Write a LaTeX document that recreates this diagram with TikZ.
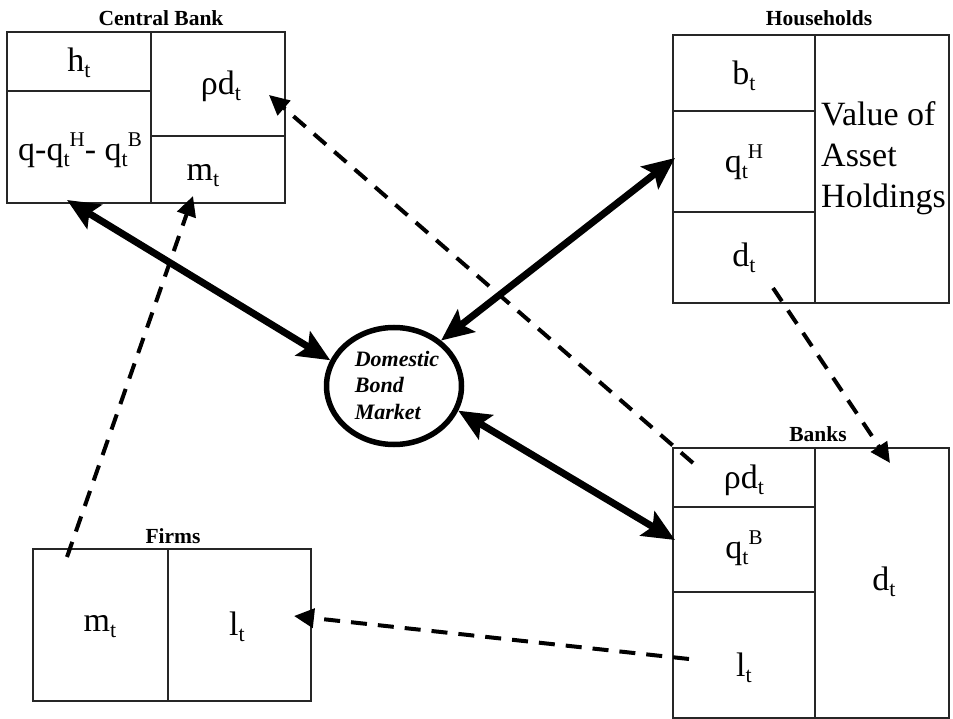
\documentclass[tikz,border=0pt]{standalone}
\usepackage{fontspec}
\setmainfont{Liberation Serif}
\usetikzlibrary{arrows.meta,shapes.geometric}
\newcommand{\Tsub}[1]{\raisebox{-0.18em}{\fontsize{22}{22}\selectfont #1}}
\newcommand{\Tsup}[1]{\raisebox{0.40em}{\fontsize{21}{21}\selectfont #1}}
\begin{document}
\begin{tikzpicture}[x=1pt,y=-1pt,
  boxline/.style={draw=black!85, line width=1.3pt},
  boxnode/.style={boxline, inner sep=0pt, outer sep=0pt},
  title/.style={font=\fontsize{21.5}{24}\selectfont\bfseries, inner sep=0pt},
  cell/.style={font=\fontsize{34}{40}\selectfont, inner sep=0pt},
  bondtext/.style={font=\fontsize{22}{26.5}\selectfont\bfseries\itshape, align=left, inner sep=0pt},
  thickarrow/.style={line width=7pt, {Stealth[length=32pt,width=28pt,inset=6pt]}-{Stealth[length=32pt,width=28pt,inset=6pt]}},
  dasharrow/.style={line width=4pt, dash pattern=on 16pt off 11pt, -{Triangle[length=20pt,width=19pt]}}]
\useasboundingbox (0,0) rectangle (953,719);

% Central Bank
\node[boxnode, minimum width=278pt, minimum height=171pt] (cb) at (146,117.5) {};
\draw[boxline] (151,32) -- (151,203) (7,91) -- (151,91) (151,136) -- (285,136);
\node[title] (cbt) at (161,18) {Central Bank};
\node[cell] (cbh) at (79,63) {h\Tsub{t}};
\node[cell] (cbq) at (80,150) {q-q\Tsub{t}\Tsup{H}- q\Tsub{t}\Tsup{B}};
\node[cell] (cbr) at (221,86) {ρd\Tsub{t}};
\node[cell] (cbm) at (203,176) {m\Tsub{t}};

% Households
\node[boxnode, minimum width=276pt, minimum height=268pt] (hh) at (811,169) {};
\draw[boxline] (815,35) -- (815,303) (673,111) -- (815,111) (673,212) -- (815,212);
\node[title] (hht) at (819,18) {Households};
\node[cell] (hhb) at (744,76) {b\Tsub{t}};
\node[cell] (hhq) at (744,162) {q\Tsub{t}\Tsup{H}};
\node[cell] (hhd) at (744,258) {d\Tsub{t}};
\node[cell, align=left, anchor=west, font=\fontsize{34}{41}\selectfont] (hhv) at (821,158) {Value of\\Asset\\Holdings};

% Banks
\node[boxnode, minimum width=276pt, minimum height=270pt] (bk) at (811,583) {};
\draw[boxline] (815,448) -- (815,718) (673,507) -- (815,507) (673,592) -- (815,592);
\node[title] (bkt) at (818,434) {Banks};
\node[cell] (bkr) at (744,480) {ρd\Tsub{t}};
\node[cell] (bkq) at (744,548) {q\Tsub{t}\Tsup{B}};
\node[cell] (bkl) at (744,668) {l\Tsub{t}};
\node[cell] (bkd) at (884,582) {d\Tsub{t}};

% Firms
\node[boxnode, minimum width=278pt, minimum height=152pt] (fm) at (172,625) {};
\draw[boxline] (168,549) -- (168,701);
\node[title] (fmt) at (173,536) {Firms};
\node[cell] (fmm) at (100,627) {m\Tsub{t}};
\node[cell] (fml) at (237,627) {l\Tsub{t}};

% Domestic Bond Market
\node[ellipse, draw=black, line width=5.5pt, minimum width=135pt, minimum height=117pt, inner sep=0pt] (dbm) at (394,386) {};
\node[bondtext] (dbmt) at (397,385) {Domestic\\Bond\\Market};

% arrow end points
\coordinate (cbA) at (67,200);
\coordinate (hhA) at (675,158);
\coordinate (bkA) at (675,540);
\coordinate (bkR) at (693,463);
\coordinate (cbR) at (269,95);
\coordinate (fmM) at (67,557);
\coordinate (cbM) at (193,196);
\coordinate (hhD) at (773,288);
\coordinate (bkD) at (890,463);
\coordinate (bkL) at (689,659);
\coordinate (fmL) at (294,616);

\draw[thickarrow] (cbA) -- (dbm.158.8);
\draw[thickarrow] (hhA) -- (dbm.44.4);
\draw[thickarrow] (dbm.-21.5) -- (bkA);

\draw[dasharrow] (bkR) -- (cbR);
\draw[dasharrow] (fmM) -- (cbM);
\draw[dasharrow] (hhD) -- (bkD);
\draw[dasharrow] (bkL) -- (fmL);
\end{tikzpicture}
\end{document}
